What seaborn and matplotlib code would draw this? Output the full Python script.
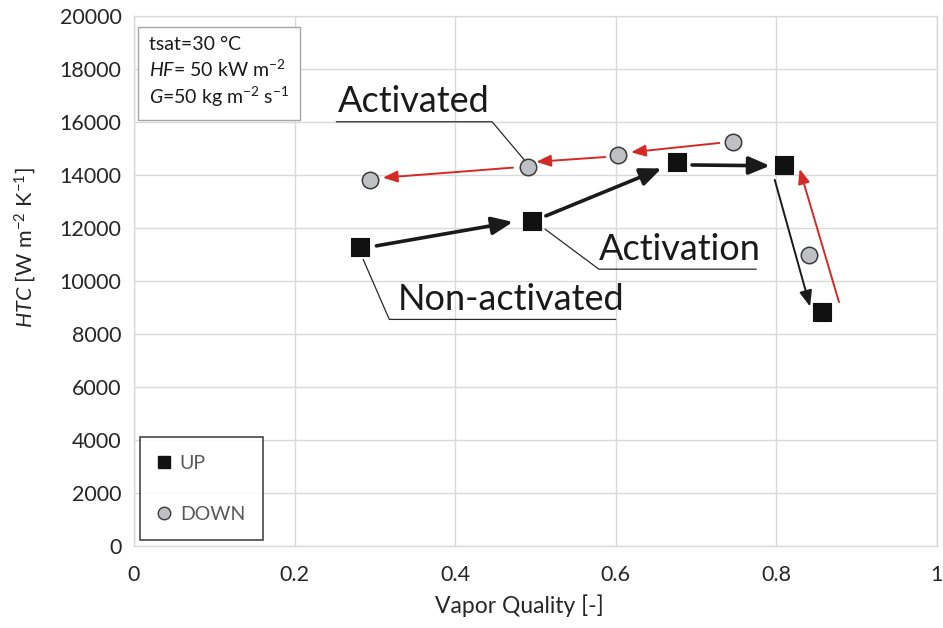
import matplotlib
matplotlib.use("Agg")
import matplotlib.pyplot as plt
from matplotlib.lines import Line2D
import seaborn as sns
import pandas as pd

# --- data ---
up_x = [0.281, 0.496, 0.676, 0.809, 0.857]
up_htc = [11280, 12260, 14490, 14380, 8840]
down_x = [0.294, 0.491, 0.603, 0.746, 0.841]
down_htc = [13800, 14300, 14750, 15230, 10980]

# arrows: (x0, y0, x1, y1)
up_arrows = [(0.302, 11320, 0.472, 12220),
             (0.513, 12450, 0.657, 14240),
             (0.695, 14370, 0.792, 14340),
             (0.798, 13810, 0.842, 9030)]
down_arrows = [(0.729, 15200, 0.619, 14850),
               (0.587, 14670, 0.501, 14490),
               (0.472, 14270, 0.310, 13890),
               (0.878, 9200, 0.829, 14220)]

# callouts: label, leader start (x, y), underline corner (x, y), underline far end x
callouts = [("Activated", (0.487, 14530), (0.446, 16000), 0.252),
            ("Activation", (0.512, 11950), (0.579, 10440), 0.775),
            ("Non-activated", (0.2855, 10810), (0.318, 8545), 0.600)]
label_shift = [0.002, 0.0, 0.01]

sns.set_style("white")
plt.rcParams['font.family'] = ['Lato', 'DejaVu Sans']
plt.rcParams['mathtext.fontset'] = 'custom'
plt.rcParams['mathtext.rm'] = 'Lato'
plt.rcParams['mathtext.it'] = 'Lato:italic'

fig = plt.figure(figsize=(9.43, 6.28), dpi=100)
ax = fig.add_axes([0.142, 0.1306, 0.8516, 0.8444])

df_up = pd.DataFrame({"x": up_x, "htc": up_htc})
df_down = pd.DataFrame({"x": down_x, "htc": down_htc})

# arrows first so markers sit on top
for x0, y0, x1, y1 in up_arrows[:3]:
    ax.annotate("", xy=(x1, y1), xytext=(x0, y0),
                arrowprops=dict(arrowstyle="-|>,head_length=0.85,head_width=0.36",
                                lw=2.6, color="#1a1a1a", mutation_scale=15,
                                shrinkA=0, shrinkB=0))
x0, y0, x1, y1 = up_arrows[3]
ax.annotate("", xy=(x1, y1), xytext=(x0, y0),
            arrowprops=dict(arrowstyle="-|>,head_length=0.8,head_width=0.32",
                            lw=1.4, color="#1a1a1a", mutation_scale=12,
                            shrinkA=0, shrinkB=0))
for x0, y0, x1, y1 in down_arrows:
    ax.annotate("", xy=(x1, y1), xytext=(x0, y0),
                arrowprops=dict(arrowstyle="-|>,head_length=0.8,head_width=0.32",
                                lw=1.4, color="#d42a26", mutation_scale=11,
                                shrinkA=0, shrinkB=0))

sns.scatterplot(data=df_up, x="x", y="htc", marker="s", s=150, color="#111111",
                edgecolor="#111111", linewidth=0.8, ax=ax, zorder=5)
sns.scatterplot(data=df_down, x="x", y="htc", marker="o", s=140, color="#bfc0c4",
                edgecolor="#3a3a3a", linewidth=1.1, ax=ax, zorder=5)

# callouts with underlined labels
for (label, start, ul_a, ul_b), dx in zip(callouts, label_shift):
    ax.plot([start[0], ul_a[0], ul_b], [start[1], ul_a[1], ul_a[1]],
            color="#2a2a2a", lw=0.9, zorder=4)
    tx = min(ul_a[0], ul_b)
    ax.text(tx + dx, ul_a[1] + 130, label, fontsize=26, color="#1a1a1a",
            ha="left", va="bottom", zorder=6)

ax.set_xlim(0, 1)
ax.set_ylim(0, 20000)
ax.set_xticks([0, 0.2, 0.4, 0.6, 0.8, 1])
ax.set_xticklabels(["0", "0.2", "0.4", "0.6", "0.8", "1"])
ax.set_yticks(range(0, 20001, 2000))
ax.tick_params(axis="both", length=0, labelsize=15.5, colors="#262626")
ax.tick_params(axis="x", pad=14)
ax.tick_params(axis="y", pad=9)
ax.grid(True, color="#d9d9d9", lw=1)
ax.set_axisbelow(True)
for sp in ax.spines.values():
    sp.set_color("#d9d9d9")
    sp.set_linewidth(1)

ax.set_xlabel("Vapor Quality [-]", fontsize=16.5, color="#262626")
ax.set_ylabel("$HTC$ [W m$^{-2}$ K$^{-1}$]", fontsize=15.5, color="#262626")
ax.xaxis.set_label_coords(0.48, -0.092)
ax.yaxis.set_label_coords(-0.12, 0.563)

# conditions box
ax.text(0.019, 0.962, "tsat=30 °C\n$HF$= 50 kW m$^{-2}$\n$G$=50 kg m$^{-2}$ s$^{-1}$",
        transform=ax.transAxes, fontsize=14, color="#1a1a1a", va="top", ha="left",
        linespacing=1.3,
        bbox=dict(boxstyle="square,pad=0.55", fc="white", ec="#a6a6a6", lw=1))

# legend
handles = [Line2D([], [], marker="s", ls="", color="#111111", markersize=9, label="UP"),
           Line2D([], [], marker="o", ls="", markerfacecolor="#bfc0c4",
                  markeredgecolor="#3a3a3a", markersize=9, label="DOWN")]
leg = ax.legend(handles=handles, loc="lower left", bbox_to_anchor=(0.0075, 0.011),
                fontsize=14, frameon=True, fancybox=False, labelspacing=1.75,
                handlelength=0.7, handletextpad=0.45, borderpad=0.9,
                borderaxespad=0)
leg.get_frame().set_edgecolor("#1a1a1a")
leg.get_frame().set_linewidth(1.2)
for t in leg.get_texts():
    t.set_color("#595959")

fig.savefig("out.png", dpi=100)
